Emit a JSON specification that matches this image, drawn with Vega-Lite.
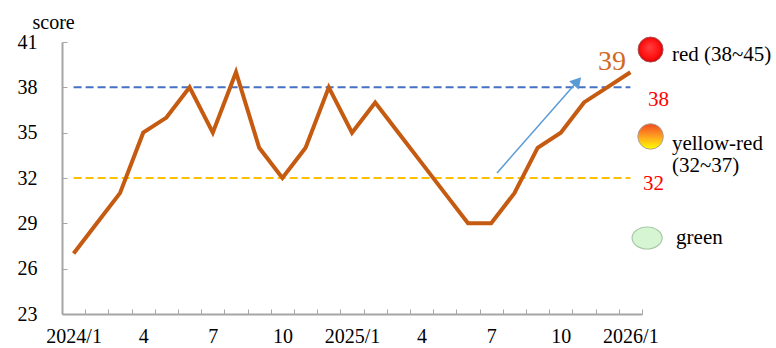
{
  "$schema": "https://vega.github.io/schema/vega-lite/v6.json",
  "width": 580,
  "height": 272,
  "autosize": "none",
  "padding": {"left": 62, "top": 42, "right": 134, "bottom": 34},
  "config": {"view": {"stroke": null}, "font": "Liberation Serif"},
  "resolve": {"axis": {"x": "independent"}},
  "layer": [
    {
      "data": {"values": [
        {"start": 0, "end": 24, "level": 38, "band": "red"},
        {"start": 0, "end": 24, "level": 32, "band": "yellow"}
      ]},
      "mark": {"type": "rule", "strokeWidth": 2, "strokeDash": [8, 4]},
      "encoding": {
        "x": {
          "field": "start", "type": "quantitative",
          "scale": {"domain": [-0.5, 24.5], "nice": false, "zero": false},
          "axis": {
            "orient": "bottom",
            "title": null,
            "values": [-0.5, 0.5, 1.5, 2.5, 3.5, 4.5, 5.5, 6.5, 7.5, 8.5, 9.5, 10.5, 11.5, 12.5, 13.5, 14.5, 15.5, 16.5, 17.5, 18.5, 19.5, 20.5, 21.5, 22.5, 23.5, 24.5],
            "grid": false,
            "labels": false,
            "domainColor": "#A6A6A6",
            "domainWidth": 2,
            "tickColor": "#A6A6A6",
            "tickWidth": 1,
            "tickSize": -5
          }
        },
        "x2": {"field": "end"},
        "y": {
          "field": "level", "type": "quantitative",
          "scale": {"domain": [23, 41], "nice": false, "zero": false},
          "axis": {
            "values": [23, 26, 29, 32, 35, 38, 41],
            "grid": false,
            "domainColor": "#A6A6A6",
            "domainWidth": 2,
            "tickColor": "#A6A6A6",
            "tickWidth": 1,
            "tickSize": -5,
            "labelFontSize": 20,
            "labelColor": "#000000",
            "labelFont": "Liberation Serif",
            "labelPadding": 30,
            "labelFlush": false,
            "title": "score",
            "titleAngle": 0,
            "titleAlign": "left",
            "titleBaseline": "alphabetic",
            "titleX": -30,
            "titleY": -14,
            "titleFont": "Liberation Serif",
            "titleFontSize": 20,
            "titleFontWeight": "normal",
            "titleColor": "#000000"
          }
        },
        "color": {"field": "band", "type": "nominal", "scale": {"domain": ["red", "yellow"], "range": ["#4472C4", "#FFC000"]}, "legend": null}
      }
    },
    {
      "data": {"values": [
        {"i": 0, "month": "2024/1", "score": 27},
        {"i": 1, "month": "2024/2", "score": 29},
        {"i": 2, "month": "2024/3", "score": 31},
        {"i": 3, "month": "2024/4", "score": 35},
        {"i": 4, "month": "2024/5", "score": 36},
        {"i": 5, "month": "2024/6", "score": 38},
        {"i": 6, "month": "2024/7", "score": 35},
        {"i": 7, "month": "2024/8", "score": 39},
        {"i": 8, "month": "2024/9", "score": 34},
        {"i": 9, "month": "2024/10", "score": 32},
        {"i": 10, "month": "2024/11", "score": 34},
        {"i": 11, "month": "2024/12", "score": 38},
        {"i": 12, "month": "2025/1", "score": 35},
        {"i": 13, "month": "2025/2", "score": 37},
        {"i": 14, "month": "2025/3", "score": 35},
        {"i": 15, "month": "2025/4", "score": 33},
        {"i": 16, "month": "2025/5", "score": 31},
        {"i": 17, "month": "2025/6", "score": 29},
        {"i": 18, "month": "2025/7", "score": 29},
        {"i": 19, "month": "2025/8", "score": 31},
        {"i": 20, "month": "2025/9", "score": 34},
        {"i": 21, "month": "2025/10", "score": 35},
        {"i": 22, "month": "2025/11", "score": 37},
        {"i": 23, "month": "2025/12", "score": 38},
        {"i": 24, "month": "2026/1", "score": 39}
      ]},
      "mark": {"type": "line", "color": "#C55A11", "strokeWidth": 4, "strokeJoin": "miter"},
      "encoding": {
        "x": {
          "field": "i", "type": "quantitative",
          "axis": {
            "orient": "bottom",
            "title": null,
            "values": [0, 3, 6, 9, 12, 15, 18, 21, 24],
            "grid": false,
            "domain": false,
            "ticks": false,
            "tickSize": 0,
            "labelExpr": "datum.value == 0 ? '2024/1' : (datum.value == 12 ? '2025/1' : (datum.value == 24 ? '2026/1' : '' + ((datum.value % 12) + 1)))",
            "labelFontSize": 20,
            "labelColor": "#000000",
            "labelFont": "Liberation Serif",
            "labelPadding": 12,
            "labelOverlap": false,
            "labelFlush": false
          }
        },
        "y": {"field": "score", "type": "quantitative"}
      }
    },
    {
      "data": {"values": [{"x0": 18.25, "y0": 32.33, "x1": 21.72, "y1": 38.4}]},
      "mark": {"type": "rule", "color": "#5B9BD5", "strokeWidth": 1.5},
      "encoding": {
        "x": {"field": "x0", "type": "quantitative", "axis": null},
        "y": {"field": "y0", "type": "quantitative"},
        "x2": {"field": "x1"},
        "y2": {"field": "y1"}
      }
    },
    {
      "data": {"values": [{"x": 21.72, "y": 38.4}]},
      "mark": {"type": "point", "shape": "triangle-up", "angle": 41, "filled": true, "color": "#5B9BD5", "opacity": 1, "size": 160},
      "encoding": {
        "x": {"field": "x", "type": "quantitative", "axis": null},
        "y": {"field": "y", "type": "quantitative"}
      }
    },
    {
      "data": {"values": [{"x": 22.6, "y": 39.15, "label": "39"}]},
      "mark": {"type": "text", "align": "left", "baseline": "alphabetic", "fontSize": 28, "color": "#D0691F", "font": "Liberation Serif"},
      "encoding": {
        "x": {"field": "x", "type": "quantitative", "axis": null},
        "y": {"field": "y", "type": "quantitative"},
        "text": {"field": "label"}
      }
    },
    {
      "data": {"values": [
        {"x": 24.76, "y": 36.76, "label": "38"},
        {"x": 24.54, "y": 31.21, "label": "32"}
      ]},
      "mark": {"type": "text", "align": "left", "baseline": "alphabetic", "fontSize": 21, "color": "#FF0000", "font": "Liberation Serif"},
      "encoding": {
        "x": {"field": "x", "type": "quantitative", "axis": null},
        "y": {"field": "y", "type": "quantitative"},
        "text": {"field": "label"}
      }
    },
    {
      "data": {"values": [
        {"x": 25.79, "y": 39.74, "label": "red (38~45)"},
        {"x": 25.79, "y": 33.85, "label": "yellow-red"},
        {"x": 25.79, "y": 32.4, "label": "(32~37)"},
        {"x": 25.97, "y": 27.63, "label": "green"}
      ]},
      "mark": {"type": "text", "align": "left", "baseline": "alphabetic", "fontSize": 21, "color": "#000000", "font": "Liberation Serif"},
      "encoding": {
        "x": {"field": "x", "type": "quantitative", "axis": null},
        "y": {"field": "y", "type": "quantitative"},
        "text": {"field": "label"}
      }
    },
    {
      "data": {"values": [{"x": 24.87, "y": 40.5, "level": "red"}]},
      "mark": {"type": "point", "shape": "circle", "size": 625, "opacity": 1, "strokeWidth": 1, "stroke": "#B05050",
        "fill": {"gradient": "radial", "x1": 0.45, "y1": 0.4, "r1": 0, "x2": 0.5, "y2": 0.5, "r2": 0.55,
          "stops": [{"offset": 0, "color": "#FF4040"}, {"offset": 0.7, "color": "#FF1010"}, {"offset": 1, "color": "#C00000"}]}},
      "encoding": {
        "x": {"field": "x", "type": "quantitative", "axis": null},
        "y": {"field": "y", "type": "quantitative"}
      }
    },
    {
      "data": {"values": [{"x": 24.87, "y": 34.75, "level": "yellow-red"}]},
      "mark": {"type": "point", "shape": "circle", "size": 650, "opacity": 1, "strokeWidth": 1, "stroke": "#B0A090",
        "fill": {"gradient": "linear", "x1": 0, "y1": 0, "x2": 0, "y2": 1,
          "stops": [{"offset": 0, "color": "#F04A20"}, {"offset": 0.5, "color": "#FFA020"}, {"offset": 1, "color": "#FFFF00"}]}},
      "encoding": {
        "x": {"field": "x", "type": "quantitative", "axis": null},
        "y": {"field": "y", "type": "quantitative"}
      }
    },
    {
      "data": {"values": [{"x": 24.72, "y": 28.03, "level": "green"}]},
      "mark": {"type": "point", "shape": "M -1 0 A 1 0.733 0 1 0 1 0 A 1 0.733 0 1 0 -1 0 Z", "size": 900, "opacity": 1, "strokeWidth": 1.2, "stroke": "#A8C8A8", "fill": "#D6F5D3"},
      "encoding": {
        "x": {"field": "x", "type": "quantitative", "axis": null},
        "y": {"field": "y", "type": "quantitative"}
      }
    }
  ]
}
